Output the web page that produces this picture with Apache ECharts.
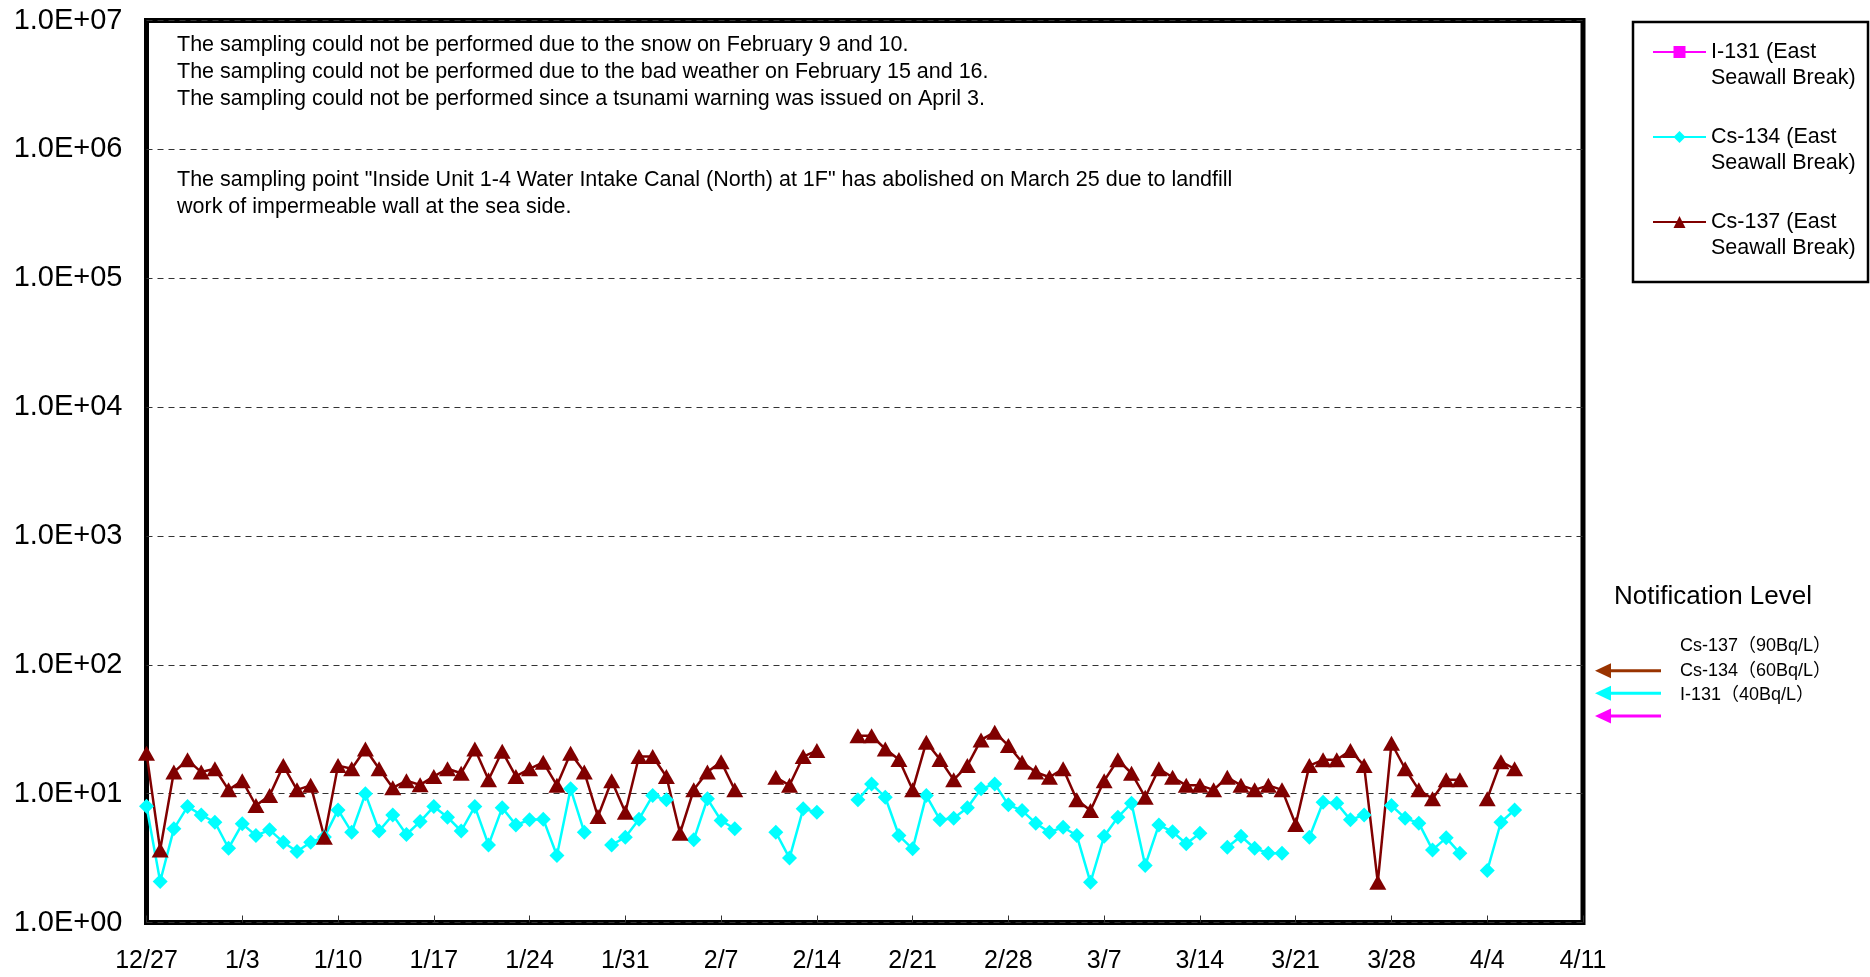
<!DOCTYPE html>
<html>
<head>
<meta charset="utf-8">
<script src="https://cdn.jsdelivr.net/npm/echarts@6/dist/echarts.min.js"></script>
<style>
html, body { margin: 0; padding: 0; background: #fff; }
#main { width: 1870px; height: 977px; }
</style>
</head>
<body>
<div id="main"></div>
<script>
// one category per day, 12/27 .. 4/11
const days = [];
for (let i = 0; i < 106; i++) {
    const d = new Date(2013, 11, 27 + i);
    days.push((d.getMonth() + 1) + '/' + d.getDate());
}

// I-131 never detected in this period
const i131 = [];

const cs134 = [
    8.0, 2.08, 5.33, 7.94, 6.84, 6.0, 3.77, 5.83, 4.73, 5.24,
    4.2, 3.56, 4.2, 4.6, 7.48, 5.02, 9.96, 5.13, 6.84, 4.82,
    6.07, 7.94, 6.56, 5.13, 7.94, 4.0, 7.76, 5.72, 6.26, 6.34,
    3.31, 10.9, 5.02, null, 4.0, 4.59, 6.34, 9.67, 8.95, null,
    4.38, 9.12, 6.19, 5.33, null, null, 5.02, 3.16, 7.62, 7.17,
    null, null, 8.95, 11.9, 9.38, 4.73, 3.73, 9.67, 6.26, 6.45,
    7.76, 10.9, 11.9, 8.19, 7.39, 5.9, 5.02, 5.49, 4.73, 2.05,
    4.67, 6.56, 8.43, 2.77, 5.72, 5.06, 4.08, 4.93, null, 3.84,
    4.67, 3.77, 3.45, 3.45, null, 4.59, 8.58, 8.43, 6.26, 6.84,
    null, 8.09, 6.45, 5.9, 3.66, 4.54, 3.45, null, 2.53, 6.0,
    7.48
];

const cs137 = [
    20.6, 3.66, 14.7, 18.3, 14.7, 15.6, 10.7, 12.6, 8.09, 9.67,
    16.5, 10.7, 11.6, 4.59, 16.5, 15.6, 22.2, 15.6, 11.1, 12.6,
    11.7, 13.6, 15.6, 14.4, 22.2, 12.8, 21.3, 13.6, 15.6, 17.5,
    11.6, 20.6, 14.7, 6.64, 12.6, 7.17, 19.4, 19.4, 13.6, 4.93,
    10.7, 14.7, 17.7, 10.7, null, null, 13.4, 11.6, 19.4, 21.6,
    null, null, 28.2, 28.2, 22.2, 18.4, 10.7, 25.1, 18.4, 12.8,
    16.5, 26.1, 30.0, 23.6, 17.5, 14.7, 13.4, 15.6, 8.95, 7.39,
    12.6, 18.3, 14.4, 9.38, 15.6, 13.4, 11.6, 11.6, 10.7, 13.4,
    11.6, 10.7, 11.6, 10.7, 5.76, 16.5, 18.3, 18.3, 21.6, 16.5,
    2.05, 24.6, 15.6, 10.7, 9.12, 12.8, 12.8, null, 9.12, 17.7,
    15.6
];

// notification levels (Bq/L): Cs-137, Cs-134, I-131
const levelValues = [90, 60, 40];
const levelLabels = ['Cs-137（90Bq/L）', 'Cs-134（60Bq/L）', 'I-131（40Bq/L）'];
const levelColors = ['#993300', '#00FFFF', '#FF00FF'];

const notesTop = [
    'The sampling could not be performed due to the snow on February 9 and 10.',
    'The sampling could not be performed due to the bad weather on February 15 and 16.',
    'The sampling could not be performed since a tsunami warning was issued on April 3.'
];
const notesBottom = [
    'The sampling point "Inside Unit 1-4 Water Intake Canal (North) at 1F" has abolished on March 25 due to landfill',
    'work of impermeable wall at the sea side.'
];

const font = '"Liberation Sans", Arial, "Noto Sans CJK JP", sans-serif';

const chart = echarts.init(document.getElementById('main'));

var option = {
    animation: false,
    backgroundColor: '#fff',
    textStyle: { fontFamily: font },
    grid: {
        left: 146.5,
        top: 20.5,
        width: 1436.5,
        height: 902,
        show: true,
        borderColor: '#000',
        borderWidth: 5
    },
    legend: {
        orient: 'vertical',
        left: 1652,
        top: 13,
        padding: 0,
        itemGap: 7,
        itemWidth: 53,
        itemHeight: 15,
        // leading blank line puts the first text line level with the icon
        formatter: function (name) {
            return '\n' + name;
        },
        textStyle: {
            fontSize: 21.5,
            lineHeight: 26,
            color: '#000',
            fontFamily: font
        },
        data: ['I-131 (East\nSeawall Break)', 'Cs-134 (East\nSeawall Break)', 'Cs-137 (East\nSeawall Break)']
    },
    xAxis: {
        type: 'category',
        data: days,
        boundaryGap: false,
        axisLine: { show: false },
        axisTick: {
            show: true,
            inside: true,
            length: 7,
            interval: 6,
            lineStyle: { color: '#333', width: 1 }
        },
        axisLabel: {
            interval: 6,
            fontSize: 25,
            color: '#000',
            margin: 26,
            fontFamily: font
        },
        splitLine: { show: false }
    },
    yAxis: {
        type: 'log',
        logBase: 10,
        min: 1,
        max: 10000000,
        axisLine: { show: false },
        axisTick: { show: false },
        axisLabel: {
            fontSize: 29,
            color: '#000',
            margin: 24,
            fontFamily: font,
            formatter: function (v) {
                const e = Math.round(Math.log10(v));
                return '1.0E+' + String(e).padStart(2, '0');
            }
        },
        splitLine: {
            show: true,
            lineStyle: { color: '#333', width: 1, type: [6, 5] }
        }
    },
    series: [
        {
            name: 'I-131 (East\nSeawall Break)',
            type: 'line',
            data: i131,
            symbol: 'rect',
            symbolSize: [14, 5],
            itemStyle: { color: '#FF00FF' },
            lineStyle: { color: '#FF00FF', width: 2.5 }
        },
        {
            name: 'Cs-134 (East\nSeawall Break)',
            type: 'line',
            data: cs134,
            symbol: 'diamond',
            symbolSize: 15,
            showAllSymbol: true,
            itemStyle: { color: '#00FFFF' },
            lineStyle: { color: '#00FFFF', width: 2.5 }
        },
        {
            name: 'Cs-137 (East\nSeawall Break)',
            type: 'line',
            data: cs137,
            symbol: 'triangle',
            symbolSize: [17, 15],
            showAllSymbol: true,
            itemStyle: { color: '#800000' },
            lineStyle: { color: '#800000', width: 2.5 }
        }
    ]
};
chart.setOption(option);

// texts, legend frame and notification arrows
const graphics = [
    {
        type: 'rect',
        shape: { x: 1633, y: 22, width: 235, height: 260 },
        style: { fill: 'none', stroke: '#000', lineWidth: 2.5 }
    },
    {
        type: 'text',
        x: 177, y: 32,
        style: { text: notesTop.join('\n'), font: '21.5px ' + font, lineHeight: 27, fill: '#000' }
    },
    {
        type: 'text',
        x: 177, y: 167,
        style: { text: notesBottom.join('\n'), font: '21.5px ' + font, lineHeight: 27, fill: '#000' }
    },
    {
        type: 'text',
        x: 1614, y: 597,
        style: { text: 'Notification Level', font: '26px ' + font, fill: '#000', verticalAlign: 'middle' }
    }
];
const labelY = [646, 671, 695];
levelValues.forEach(function (v, i) {
    const y = chart.convertToPixel({ yAxisIndex: 0 }, v);
    graphics.push({
        type: 'line',
        shape: { x1: 1608, y1: y, x2: 1661, y2: y },
        style: { stroke: levelColors[i], lineWidth: 3 }
    });
    graphics.push({
        type: 'polygon',
        shape: { points: [[1595, y], [1611, y - 7.5], [1611, y + 7.5]] },
        style: { fill: levelColors[i] }
    });
    graphics.push({
        type: 'text',
        x: 1680, y: labelY[i],
        style: { text: levelLabels[i], font: '18px ' + font, fill: '#000', verticalAlign: 'middle' }
    });
});
chart.setOption({ graphic: graphics });
</script>
</body>
</html>
